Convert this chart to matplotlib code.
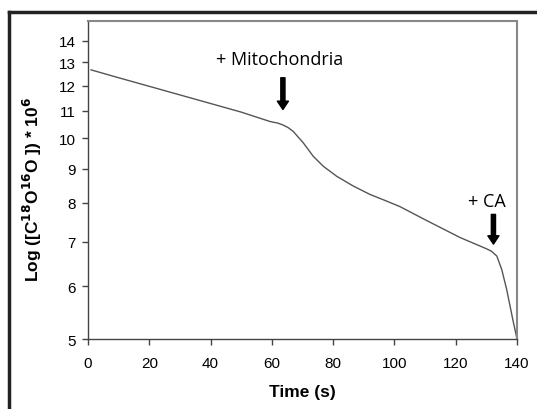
import matplotlib
matplotlib.use("Agg")
import matplotlib.pyplot as plt
from matplotlib.lines import Line2D
from matplotlib.ticker import FixedLocator, NullLocator, FixedFormatter

# trace
time_s = [1, 10, 20, 30, 40, 50, 59.4, 62.0, 63.7, 65.3, 67.0, 70.3, 73.5, 76.8,
          81.2, 86.6, 92.0, 97.5, 101.8, 110, 121.4, 130, 131.7, 133.4, 135.0,
          136.6, 137.7, 138.8, 140]
conc = [12.67, 12.33, 11.97, 11.62, 11.28, 10.95, 10.60, 10.54, 10.47, 10.38, 10.24,
        9.84, 9.40, 9.08, 8.77, 8.48, 8.24, 8.05, 7.90, 7.55, 7.10, 6.83, 6.77,
        6.66, 6.36, 5.94, 5.61, 5.30, 5.0]

y_ticks = [5, 6, 7, 8, 9, 10, 11, 12, 13, 14]
x_ticks = [0, 20, 40, 60, 80, 100, 120, 140]

# annotations: (label, arrow x, arrow top, arrow bottom, label x, label y)
mito = ("+ Mitochondria", 63.6, 12.33, 11.05, 62.5, 13.15)
ca = ("+ CA", 132.3, 7.69, 6.94, 130.0, 8.05)

fig = plt.figure(figsize=(5.37, 4.10), dpi=100)
ax = fig.add_axes([0.1639, 0.1707, 0.7989, 0.7756])

ax.plot(time_s, conc, color="#555555", lw=1.0)
ax.set_yscale("log")
ax.set_ylim(5, 15)
ax.set_xlim(0, 140)

ax.yaxis.set_major_locator(FixedLocator(y_ticks))
ax.yaxis.set_major_formatter(FixedFormatter([str(v) for v in y_ticks]))
ax.yaxis.set_minor_locator(NullLocator())
ax.set_xticks(x_ticks)

for lab in ax.get_xticklabels() + ax.get_yticklabels():
    lab.set_fontfamily("Liberation Sans")
    lab.set_fontsize(11)
ax.tick_params(direction="out", length=4, width=1, color="#444444")
ax.tick_params(axis="x", pad=8)
ax.tick_params(axis="y", pad=5)

for s in ["left", "bottom"]:
    ax.spines[s].set_color("#444444")
    ax.spines[s].set_linewidth(1.0)
for s in ["top", "right"]:
    ax.spines[s].set_color("#888888")
    ax.spines[s].set_linewidth(1.5)

ax.set_xlabel("Time (s)", fontfamily="Liberation Sans", fontsize=12.5,
              fontweight="bold")
ax.xaxis.set_label_coords(0.5, -0.143)
ax.set_ylabel(r"Log ([C$^{\mathbf{18}}$O$^{\mathbf{16}}$O ]) * 10$^{\mathbf{6}}$",
              fontfamily="Liberation Sans", fontsize=12.5, fontweight="bold")
ax.yaxis.set_label_coords(-0.103, 0.475)

for label, x, ytop, ybot, tx, ty in [mito, ca]:
    ax.annotate("", xy=(x, ybot), xytext=(x, ytop),
                arrowprops=dict(width=3, headwidth=8, headlength=6,
                                color="black", shrink=0))
    ax.text(tx, ty, label, ha="center", va="center",
            fontfamily="Open Sans", fontsize=13)

# outer frame of the original figure
fig.add_artist(Line2D([9 / 537, 9 / 537], [0, 1 - 13 / 410], transform=fig.transFigure,
                      color="#222222", lw=2.5))
fig.add_artist(Line2D([9 / 537, 1], [1 - 13 / 410, 1 - 13 / 410], transform=fig.transFigure,
                      color="#222222", lw=2.5))

fig.savefig("out.png", dpi=100)
